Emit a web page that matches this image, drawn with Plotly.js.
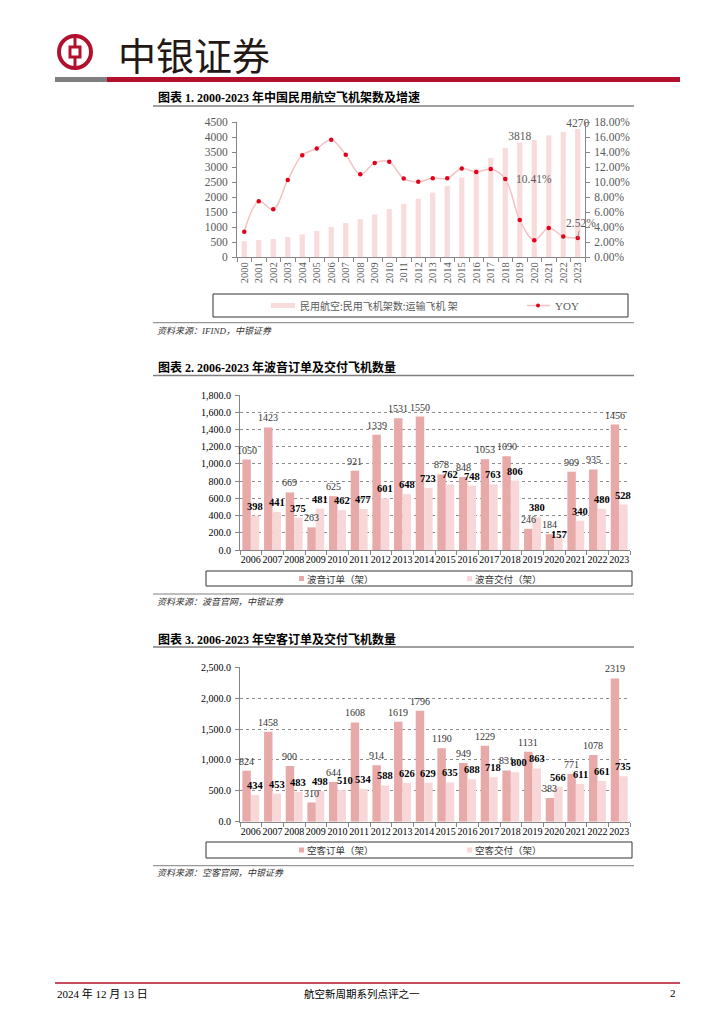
<!DOCTYPE html>
<html><head><meta charset="utf-8">
<script src="https://cdn.plot.ly/plotly-3.0.1.min.js"></script>
<style>html,body{margin:0;padding:0;background:#fff}#c{width:724px;height:1024px}</style>
</head><body><div id="c"></div>
<script>
// ---- data ----
const years1 = ['2000','2001','2002','2003','2004','2005','2006','2007','2008','2009','2010','2011','2012','2013','2014','2015','2016','2017','2018','2019','2020','2021','2022','2023'];
const fleet = [527,566,602,664,754,863,998,1134,1259,1417,1597,1764,1941,2145,2370,2650,2950,3296,3639,3818,3903,4054,4165,4270];
const fleetYoy = [0.0338,0.0742,0.0636,0.1027,0.1356,0.1446,0.1564,0.1363,0.1102,0.1255,0.1270,0.1046,0.1003,0.1051,0.1049,0.1181,0.1132,0.1173,0.1041,0.0492,0.0223,0.0387,0.0274,0.0252];
const fleetLabelYears = ['2019','2023'];
const yoyLabelYears = ['2018','2023'];

const years2 = ['2006','2007','2008','2009','2010','2011','2012','2013','2014','2015','2016','2017','2018','2019','2020','2021','2022','2023'];
const boeingOrders = [1050,1423,669,263,625,921,1339,1531,1550,878,848,1053,1090,246,184,909,935,1456];
const boeingDeliveries = [398,441,375,481,462,477,601,648,723,762,748,763,806,380,157,340,480,528];
const airbusOrders = [824,1458,900,310,644,1608,914,1619,1796,1190,949,1229,831,1131,383,771,1078,2319];
const airbusDeliveries = [434,453,483,498,510,534,588,626,629,635,688,718,800,863,566,611,661,735];

// ---- helpers / styles ----
const W=724,H=1024;
const X=p=>p/W, Y=p=>1-p/H;
const SERIF='Liberation Serif, Noto Sans CJK SC, serif';
const CJK='Noto Sans CJK SC, sans-serif';
const GRAY='#595959', AX='#868686';
const C_ORD='#e8a9a9', C_DEL='#f7d7d7', C_FLEET='#f8dcdc', C_LINE='#f3c3c3', C_DOT='#e3001b';
const RED='#b3102d';
const BAR_W=0.39;
// label nudges (pixel style offsets, as in the reference layout)
const deliveryNudge={boeing:{'2020':[1,-8]},airbus:{'2018':[4,0],'2010':[3,0]}};

const traces=[], shapes=[], ann=[];
traces.push({type:'bar',x:years1,y:fleet,xaxis:'x',yaxis:'y',marker:{color:C_FLEET},width:0.36,offset:-0.18,
  text:fleet.map((v,i)=>fleetLabelYears.includes(years1[i])?String(v):''),textposition:'outside',constraintext:'none',cliponaxis:false,
  textfont:{family:SERIF,size:11.5,color:GRAY},hoverinfo:'skip'});
traces.push({type:'scatter',mode:'lines+markers',x:years1,y:fleetYoy,xaxis:'x',yaxis:'y2',
  line:{color:C_LINE,width:1.5,shape:'spline',smoothing:1},marker:{color:C_DOT,size:4.5},cliponaxis:false,hoverinfo:'skip'});

function pair(ord,del,xa,ya,key){
  traces.push({type:'bar',x:years2,y:ord,xaxis:xa,yaxis:ya,marker:{color:C_ORD},width:BAR_W,offset:-BAR_W,hoverinfo:'skip'});
  traces.push({type:'bar',x:years2,y:del,xaxis:xa,yaxis:ya,marker:{color:C_DEL},width:BAR_W,offset:0,hoverinfo:'skip'});
  ord.forEach((v,i)=>ann.push({xref:xa,yref:ya,x:i-BAR_W/2,y:v,text:String(v),showarrow:false,yanchor:'bottom',xanchor:'center',yshift:2,
    font:{family:SERIF,size:10,color:'#333'}}));
  del.forEach((v,i)=>{const n=(deliveryNudge[key]||{})[years2[i]]||[0,0];
    ann.push({xref:xa,yref:ya,x:i+BAR_W/2,y:v,text:'<b>'+v+'</b>',showarrow:false,yanchor:'bottom',xanchor:'center',yshift:2+n[1],xshift:n[0],
    font:{family:SERIF,size:10.5,color:'#000',weight:700}});});
}
pair(boeingOrders,boeingDeliveries,'x2','y3','boeing');
pair(airbusOrders,airbusDeliveries,'x3','y4','airbus');

const baseX={type:'category',showline:true,linecolor:AX,linewidth:1,ticks:'outside',tickson:'boundaries',ticklen:4,tickcolor:AX,showgrid:false,fixedrange:true,autorange:false};
const baseY={showline:true,linecolor:AX,linewidth:1,ticks:'outside',ticklen:4,tickcolor:AX,zeroline:false,fixedrange:true,autorange:false,ticklabelstandoff:2};

function rect(x0,y0,x1,y1,fill,lineColor,lw){shapes.push({type:'rect',xref:'paper',yref:'paper',x0:X(x0),x1:X(x1),y0:Y(y1),y1:Y(y0),fillcolor:fill||'rgba(0,0,0,0)',line:{color:lineColor||'rgba(0,0,0,0)',width:lw||0}});}
function hline(x0,x1,y,color,w){shapes.push({type:'line',xref:'paper',yref:'paper',x0:X(x0),x1:X(x1),y0:Y(y),y1:Y(y),line:{color:color,width:w}});}
function vline(x,y0,y1,color,w){shapes.push({type:'line',xref:'paper',yref:'paper',x0:X(x),x1:X(x),y0:Y(y0),y1:Y(y1),line:{color:color,width:w}});}
function txt(t,x,y,opt){ann.push(Object.assign({xref:'paper',yref:'paper',x:X(x),y:Y(y),text:t,showarrow:false,xanchor:'left',yanchor:'middle',font:{family:SERIF,size:11,color:'#000'}},opt||{}));}

// header
shapes.push({type:'circle',xref:'paper',yref:'paper',x0:X(59),x1:X(91),y0:Y(68),y1:Y(36),line:{color:RED,width:4}});
rect(70,47,80,57,null,RED,3);
vline(75,37,47,RED,3); vline(75,57,67,RED,3);
txt('中银证券',116,53,{font:{family:CJK,size:38,color:'#231815'}});
rect(55,77,107,82,'#7f7f7f');
rect(107,77,680,82,RED);

// chart titles & rules
const titles=[['图表 1. 2000-2023 年中国民用航空飞机架数及增速',97,106],['图表 2. 2006-2023 年波音订单及交付飞机数量',367.5,375.5],['图表 3. 2006-2023 年空客订单及交付飞机数量',639,647]];
titles.forEach(t=>{txt('<b>'+t[0]+'</b>',156,t[1],{font:{family:SERIF,size:12,color:'#000',weight:700}});hline(153,634,t[2],'#7f7f7f',1.3);});
const sources=[['资料来源：IFIND，中银证券',322.7,331],['资料来源：波音官网，中银证券',594,602],['资料来源：空客官网，中银证券',865.7,873]];
sources.forEach(s=>{hline(153,634,s[1],'#7f7f7f',1);txt('<i>'+s[0]+'</i>',155,s[2],{font:{family:SERIF,size:9,color:'#333'}});});

// legends
rect(213,294,628,317,null,'#333',1);
rect(271,303,295,308,C_FLEET);
txt('民用航空:民用飞机架数:运输飞机 架',298,305.5,{font:{family:CJK,size:10,color:GRAY}});
hline(527,550,305.5,C_LINE,1.5);
shapes.push({type:'circle',xref:'paper',yref:'paper',x0:X(536),x1:X(540),y0:Y(307.5),y1:Y(303.5),fillcolor:C_DOT,line:{width:0}});
txt('YOY',553,305.5,{font:{family:SERIF,size:11,color:GRAY}});

[[571,586,'波音'],[842,858,'空客']].forEach(l=>{
  rect(206,l[0],632,l[1],null,'#333',1);
  const cy=(l[0]+l[1])/2;
  rect(299,cy-2.5,304,cy+2.5,C_ORD);
  txt(l[2]+'订单（架）',305,cy,{font:{family:CJK,size:9.5,color:'#333'}});
  rect(467,cy-2.5,472,cy+2.5,C_DEL);
  txt(l[2]+'交付（架）',473,cy,{font:{family:CJK,size:9.5,color:'#333'}});
});

// chart 1 point labels
const iA=years1.indexOf(yoyLabelYears[0]), iB=years1.indexOf(yoyLabelYears[1]);
ann.push({xref:'x',yref:'y2',x:iA,y:fleetYoy[iA],text:(fleetYoy[iA]*100).toFixed(2)+'%',showarrow:false,xanchor:'left',yanchor:'middle',xshift:9,font:{family:SERIF,size:11.5,color:GRAY}});
ann.push({xref:'x',yref:'y2',x:iB,y:fleetYoy[iB],text:(fleetYoy[iB]*100).toFixed(2)+'%',showarrow:true,arrowhead:0,arrowwidth:0.8,arrowcolor:'#7f7f7f',ax:3,ay:-15,font:{family:SERIF,size:11.5,color:GRAY}});

// footer
hline(55,680,983,RED,1.5);
txt('2024 年 12 月 13 日',55,993,{font:{family:SERIF,size:11,color:'#000'}});
txt('航空新周期系列点评之一',362,993,{xanchor:'center',font:{family:CJK,size:10.5,color:'#000'}});
txt('2',678,993,{xanchor:'right',font:{family:SERIF,size:11,color:'#000'}});

const layout={width:W,height:H,margin:{l:0,r:0,t:0,b:0},paper_bgcolor:'#fff',plot_bgcolor:'rgba(0,0,0,0)',showlegend:false,
  barmode:'group',bargap:0.22,bargroupgap:0,
  xaxis:Object.assign({},baseX,{domain:[X(237),X(585)],anchor:'y',range:[-0.5,years1.length-0.5],tickangle:-90,tickfont:{family:SERIF,size:10.5,color:GRAY}}),
  yaxis:Object.assign({},baseY,{domain:[Y(257),Y(122)],anchor:'x',range:[0,4500],dtick:500,tick0:0,showgrid:false,tickfont:{family:SERIF,size:11.5,color:GRAY}}),
  yaxis2:Object.assign({},baseY,{overlaying:'y',side:'right',anchor:'x',range:[0,0.18],dtick:0.02,tick0:0,tickformat:'.2%',showgrid:false,tickfont:{family:SERIF,size:11.5,color:GRAY}}),
  xaxis2:Object.assign({},baseX,{domain:[X(240),X(630)],anchor:'y3',range:[-0.5,years2.length-0.5],tickangle:0,tickfont:{family:SERIF,size:10,color:'#000'}}),
  yaxis3:Object.assign({},baseY,{domain:[Y(550),Y(395)],anchor:'x2',range:[0,1800],dtick:200,tick0:0,tickformat:',.1f',showgrid:true,gridcolor:'#8c8c8c',griddash:'dot',gridwidth:1,tickfont:{family:SERIF,size:10,color:'#000'}}),
  xaxis3:Object.assign({},baseX,{domain:[X(240),X(630)],anchor:'y4',range:[-0.5,years2.length-0.5],tickangle:0,tickfont:{family:SERIF,size:10,color:'#000'}}),
  yaxis4:Object.assign({},baseY,{domain:[Y(821.7),Y(667.3)],anchor:'x3',range:[0,2500],dtick:500,tick0:0,tickformat:',.1f',showgrid:true,gridcolor:'#8c8c8c',griddash:'dot',gridwidth:1,tickfont:{family:SERIF,size:10,color:'#000'}}),
  shapes:shapes,annotations:ann};
Plotly.newPlot('c',traces,layout,{staticPlot:true,displayModeBar:false});
</script></body></html>
